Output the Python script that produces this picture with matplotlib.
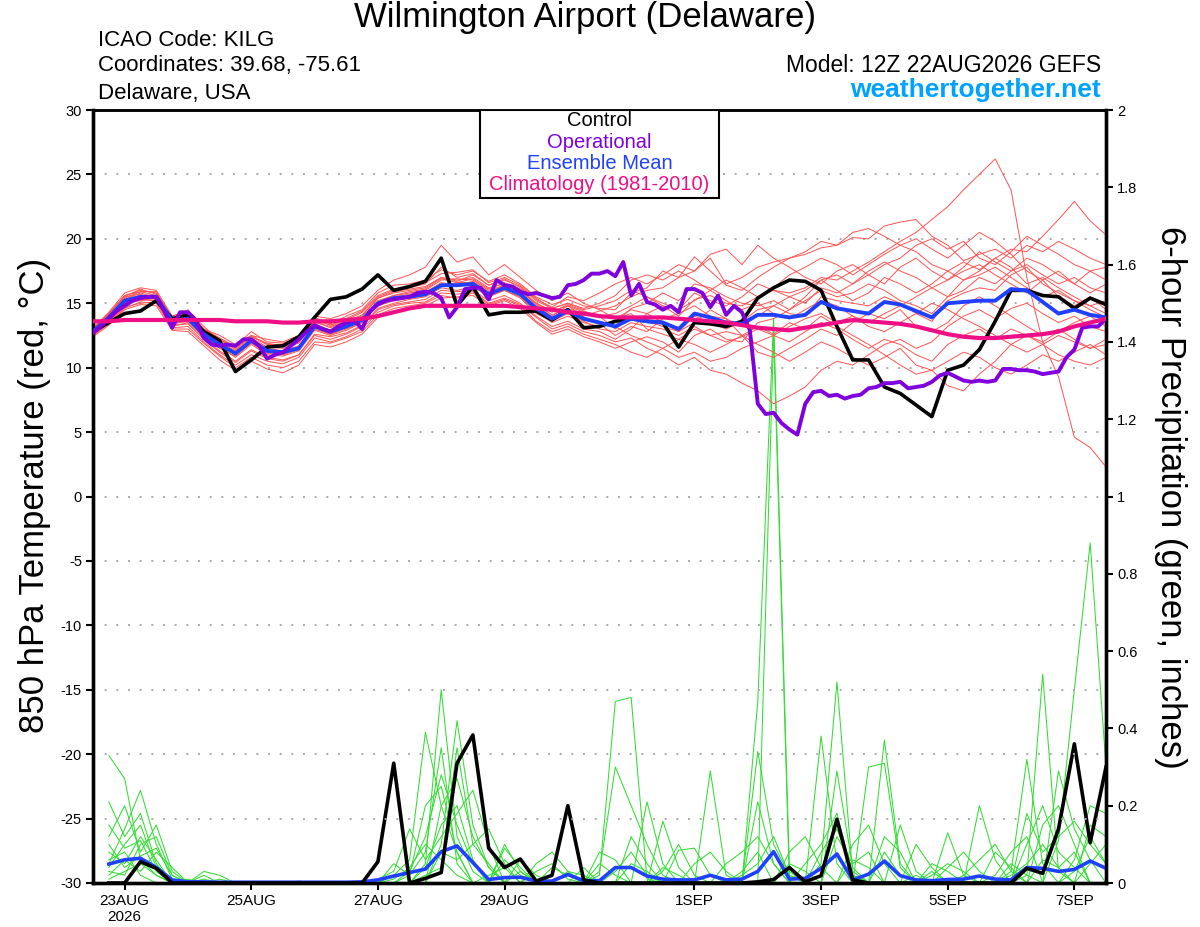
import numpy as np
import pandas as pd
import matplotlib
matplotlib.use("Agg")
import matplotlib.pyplot as plt
from matplotlib.patches import Rectangle

plt.rcParams['font.family'] = ['Liberation Sans', 'DejaVu Sans']

# ---------------- time axes ----------------
times = pd.date_range("2026-08-22 12:00", periods=65, freq="6h")
times_op = pd.date_range("2026-08-22 12:00", periods=129, freq="3h")
ptimes = times[1:]

tick_dates = pd.to_datetime(["2026-08-23", "2026-08-25", "2026-08-27", "2026-08-29",
                             "2026-09-01", "2026-09-03", "2026-09-05", "2026-09-07"])
tick_labels = ["23AUG\n2026", "25AUG", "27AUG", "29AUG", "1SEP", "3SEP", "5SEP", "7SEP"]

# ---------------- 850 hPa temperature (C) ----------------
control_t = [12.8, 13.5, 14.2, 14.4, 15.2, 13.8, 14.1, 12.8, 12.1, 9.7,
             10.6, 11.6, 11.7, 12.4, 13.9, 15.3, 15.5, 16.1, 17.2, 16.0,
             16.3, 16.7, 18.5, 14.8, 16.3, 14.1, 14.3, 14.3, 14.4, 13.7,
             14.5, 13.1, 13.2, 13.6, 13.8, 13.6, 13.5, 11.6, 13.5, 13.4,
             13.2, 13.6, 15.4, 16.2, 16.8, 16.7, 16.0, 13.2, 10.6, 10.6,
             8.5, 8.0, 7.1, 6.2, 9.8, 10.2, 11.4, 13.6, 16.0, 16.0,
             15.6, 15.5, 14.6, 15.4, 14.9]

mean_t = [12.8, 13.9, 15.2, 15.5, 15.5, 13.6, 13.8, 12.6, 11.8, 11.1,
          12.1, 11.3, 11.2, 11.5, 13.2, 12.8, 13.2, 13.7, 15.0, 15.4,
          15.5, 15.7, 16.4, 16.4, 16.5, 15.7, 16.2, 15.7, 14.6, 13.8,
          14.4, 13.8, 13.5, 13.2, 13.8, 13.6, 13.5, 13.0, 14.2, 13.9,
          13.5, 13.4, 14.1, 14.1, 13.9, 14.1, 15.1, 14.6, 14.4, 14.2,
          15.1, 14.9, 14.4, 13.9, 15.0, 15.1, 15.2, 15.2, 16.1, 16.0,
          15.1, 14.2, 14.5, 14.1, 13.9]

clim_t = [13.6, 13.6, 13.7, 13.7, 13.7, 13.7, 13.7, 13.7, 13.7, 13.6,
          13.6, 13.6, 13.5, 13.5, 13.6, 13.6, 13.7, 13.8, 14.0, 14.3,
          14.6, 14.8, 14.8, 14.8, 14.8, 14.8, 14.8, 14.7, 14.6, 14.5,
          14.3, 14.2, 14.0, 13.9, 13.9, 13.9, 13.9, 13.8, 13.7, 13.6,
          13.5, 13.3, 13.1, 13.0, 12.9, 13.1, 13.3, 13.5, 13.7, 13.6,
          13.5, 13.4, 13.2, 12.9, 12.6, 12.4, 12.3, 12.3, 12.4, 12.5,
          12.6, 12.8, 13.2, 13.5, 13.8]

oper_t = [12.7, 13.2, 13.8, 14.4, 14.8, 15.2, 15.4, 15.5, 15.5, 14.4,
          13.1, 14.3, 14.3, 13.7, 12.3, 11.8, 11.7, 11.8, 11.7, 12.2,
          12.2, 11.7, 10.7, 11.0, 11.2, 11.7, 12.2, 12.8, 13.3, 13.0,
          12.8, 13.2, 13.5, 13.7, 13.0, 14.4, 14.9, 15.2, 15.3, 15.4,
          15.5, 15.8, 15.9, 15.8, 15.4, 13.9, 14.7, 16.1, 16.2, 16.2,
          15.3, 16.8, 16.4, 16.3, 15.9, 15.7, 15.8, 15.6, 15.4, 15.5,
          16.4, 16.5, 16.8, 17.3, 17.3, 17.5, 17.1, 18.2, 15.6, 16.5,
          15.1, 14.9, 14.5, 14.8, 14.3, 16.1, 16.1, 15.8, 14.7, 15.6,
          14.1, 14.8, 14.3, 12.9, 7.2, 6.4, 6.5, 5.7, 5.2, 4.8,
          7.2, 8.1, 8.2, 7.8, 7.9, 7.6, 7.8, 7.9, 8.4, 8.5,
          8.8, 8.8, 8.9, 8.4, 8.5, 8.6, 8.9, 9.4, 9.6, 9.3,
          9.0, 8.9, 9.0, 8.9, 9.0, 9.9, 9.9, 9.8, 9.8, 9.7,
          9.5, 9.6, 9.7, 10.8, 11.4, 13.1, 13.2, 13.2, 13.8]

member_t01 = [12.9, 14.2, 15.6, 16.0, 15.8, 13.9, 14.2, 12.9, 12.2, 11.5,
              12.4, 11.8, 11.6, 12.0, 13.5, 13.2, 13.6, 14.1, 15.4, 15.9,
              16.1, 16.3, 17.0, 16.8, 17.0, 16.2, 16.5, 15.9, 15.0, 14.4,
              14.8, 14.3, 14.1, 13.8, 14.5, 14.2, 14.8, 14.0, 15.3, 15.6,
              15.0, 14.8, 15.5, 16.0, 15.8, 16.2, 17.0, 16.8, 17.5, 18.2,
              19.0, 19.8, 20.5, 21.5, 22.5, 23.8, 25.0, 26.2, 23.8, 17.0,
              12.0, 9.3, 4.6, 3.8, 2.3]
member_t02 = [12.5, 13.6, 14.8, 15.3, 15.2, 13.2, 13.5, 12.3, 11.3, 10.5,
              11.4, 10.8, 10.6, 11.0, 12.6, 12.4, 12.7, 13.3, 14.6, 15.0,
              15.3, 15.5, 16.2, 16.0, 16.3, 15.5, 16.0, 15.5, 14.3, 13.5,
              14.0, 13.5, 13.2, 13.5, 14.6, 15.0, 15.8, 15.2, 16.5, 16.2,
              15.5, 15.0, 14.8, 15.2, 14.5, 15.5, 16.8, 16.0, 15.2, 15.8,
              17.0, 16.5, 15.8, 16.5, 17.5, 18.2, 17.6, 18.5, 19.2, 19.0,
              20.2, 21.5, 22.9, 21.4, 20.3]
member_t03 = [13.1, 14.3, 15.8, 16.2, 16.0, 14.0, 14.4, 13.2, 12.1, 11.7,
              12.8, 12.0, 11.9, 12.3, 13.9, 13.4, 14.0, 14.5, 15.8, 16.4,
              16.5, 16.8, 17.6, 17.2, 17.5, 16.7, 17.2, 16.5, 15.5, 14.9,
              15.3, 14.8, 14.6, 14.5, 15.8, 16.2, 17.5, 17.0, 18.6, 17.5,
              16.4, 16.0, 17.0, 17.8, 18.5, 18.8, 19.3, 19.5, 20.1, 20.0,
              21.0, 21.3, 21.5, 20.2, 19.5, 18.3, 18.8, 19.2, 18.5, 19.5,
              19.0, 19.8, 19.2, 18.5, 18.0]
member_t04 = [12.6, 13.5, 14.7, 15.0, 15.1, 13.1, 13.2, 12.0, 11.0, 10.2,
              11.0, 10.5, 10.3, 10.8, 12.3, 12.0, 12.4, 13.0, 14.3, 14.8,
              15.0, 15.1, 15.8, 15.7, 15.9, 15.0, 15.4, 14.9, 13.9, 13.0,
              13.4, 12.8, 12.5, 12.0, 12.3, 11.5, 11.0, 10.2, 10.8, 9.8,
              9.5, 8.8, 8.2, 7.2, 7.8, 8.5, 9.8, 10.5, 10.2, 11.0,
              11.8, 12.2, 11.5, 12.0, 13.2, 14.0, 14.5, 13.8, 14.6, 15.0,
              14.2, 13.5, 14.0, 13.2, 12.8]
member_t05 = [12.7, 13.8, 15.1, 15.4, 15.6, 13.5, 13.9, 12.8, 12.0, 11.3,
              12.2, 11.5, 11.3, 11.7, 13.4, 12.9, 13.4, 13.9, 15.2, 15.6,
              15.8, 16.0, 16.8, 16.9, 16.8, 16.0, 16.4, 16.0, 14.9, 14.1,
              14.6, 14.2, 14.0, 13.0, 14.0, 13.6, 13.2, 12.8, 14.0, 13.5,
              13.0, 13.6, 14.5, 14.8, 14.2, 14.0, 15.5, 15.2, 15.0, 14.8,
              15.5, 15.0, 14.2, 13.6, 15.2, 15.8, 16.2, 16.0, 17.2, 17.8,
              16.5, 15.8, 15.2, 14.5, 13.9]
member_t06 = [12.9, 14.0, 15.4, 15.9, 15.9, 13.8, 14.5, 13.0, 12.5, 11.8,
              12.5, 12.2, 12.0, 12.5, 14.0, 13.8, 14.2, 14.8, 16.0, 16.8,
              17.2, 17.8, 19.5, 18.2, 18.6, 17.2, 18.0, 17.0, 16.0, 15.2,
              15.8, 15.0, 14.5, 13.8, 14.2, 13.0, 12.6, 12.2, 13.0, 12.5,
              12.0, 12.4, 13.0, 12.5, 12.0, 12.8, 13.5, 13.0, 12.2, 11.5,
              12.2, 11.8, 11.0, 10.5, 11.8, 12.5, 13.0, 12.2, 13.0, 12.5,
              11.8, 11.0, 10.5, 10.2, 10.8]
member_t07 = [12.4, 13.3, 14.5, 14.9, 14.8, 12.9, 12.8, 11.7, 10.6, 9.8,
              10.5, 9.9, 9.6, 10.2, 11.8, 11.6, 12.0, 12.6, 13.9, 14.4,
              14.6, 14.8, 15.4, 15.5, 15.6, 14.8, 15.2, 14.6, 13.5, 12.6,
              13.0, 12.4, 12.0, 11.5, 12.0, 12.4, 12.0, 11.2, 12.5, 13.0,
              12.2, 12.0, 13.5, 13.8, 14.5, 15.2, 16.0, 15.5, 15.8, 16.5,
              16.0, 15.2, 14.8, 14.2, 15.5, 16.0, 17.0, 16.5, 17.5, 18.0,
              17.2, 16.5, 17.0, 16.2, 15.8]
member_t08 = [12.8, 14.1, 15.5, 15.7, 15.3, 13.7, 14.0, 12.7, 11.8, 11.0,
              12.0, 11.2, 11.0, 11.5, 13.0, 12.6, 13.0, 13.5, 14.8, 15.2,
              15.4, 15.6, 16.3, 16.6, 16.6, 15.8, 16.4, 15.8, 14.8, 14.0,
              14.8, 14.0, 14.4, 14.8, 15.5, 16.0, 16.2, 17.0, 17.5, 18.5,
              16.5, 17.0, 17.8, 18.2, 18.5, 19.0, 19.8, 19.5, 20.5, 20.8,
              20.2, 19.5, 19.0, 18.0, 17.5, 16.8, 17.2, 17.8, 17.0, 16.2,
              15.5, 16.0, 15.2, 14.8, 15.2]
member_t09 = [12.6, 13.7, 15.0, 15.2, 15.4, 13.4, 13.6, 12.4, 11.6, 10.8,
              11.8, 11.0, 10.9, 11.3, 12.9, 12.5, 12.9, 13.5, 14.9, 15.3,
              15.5, 15.6, 16.4, 16.5, 16.4, 15.6, 16.0, 15.4, 14.2, 13.6,
              14.2, 13.6, 13.0, 12.8, 13.5, 13.2, 13.0, 12.5, 13.2, 12.5,
              12.8, 12.5, 13.2, 12.6, 13.5, 13.0, 14.0, 13.2, 12.5, 11.8,
              11.0, 10.2, 9.5, 9.8, 8.6, 8.2, 9.5, 10.5, 11.8, 12.5,
              12.0, 12.8, 13.5, 14.0, 13.2]
member_t10 = [13.0, 14.2, 15.5, 16.1, 15.7, 13.9, 14.0, 12.9, 12.2, 11.4,
              12.3, 11.6, 11.5, 11.9, 13.6, 13.1, 13.6, 14.0, 15.4, 15.8,
              16.0, 16.2, 17.0, 16.7, 17.2, 16.4, 16.9, 16.2, 15.2, 14.6,
              15.0, 14.5, 14.8, 15.2, 16.0, 15.5, 14.8, 14.5, 15.8, 15.2,
              14.8, 15.5, 16.5, 16.0, 15.5, 15.0, 16.2, 15.8, 16.5, 17.2,
              18.0, 18.5, 19.5, 20.0, 19.2, 19.8, 18.5, 18.0, 19.0, 20.2,
              19.5, 18.8, 18.0, 17.5, 16.8]
member_t11 = [12.5, 13.4, 14.6, 15.1, 15.0, 13.0, 13.0, 11.9, 10.9, 10.0,
              10.8, 10.2, 10.0, 10.5, 12.0, 11.9, 12.3, 12.8, 14.1, 14.6,
              14.8, 15.0, 15.6, 15.4, 15.8, 14.9, 15.3, 14.8, 13.6, 12.8,
              13.2, 12.6, 12.2, 11.8, 11.2, 10.8, 11.5, 10.8, 11.2, 10.5,
              10.8, 11.5, 12.0, 12.5, 13.2, 13.8, 14.2, 13.5, 14.0, 13.2,
              12.8, 13.5, 14.2, 15.0, 14.5, 13.8, 13.2, 12.5, 11.8, 11.2,
              11.8, 12.5, 12.0, 11.5, 11.8]
member_t12 = [12.8, 13.9, 15.3, 15.6, 15.5, 13.6, 14.1, 12.9, 12.3, 11.6,
              12.4, 11.9, 11.7, 12.2, 13.8, 13.3, 13.8, 14.4, 15.6, 16.1,
              16.3, 16.6, 17.3, 17.4, 17.6, 16.6, 17.0, 16.4, 15.4, 14.6,
              15.0, 14.6, 15.0, 15.6, 16.8, 17.2, 16.8, 17.5, 16.8, 16.0,
              15.2, 14.5, 15.0, 14.2, 13.8, 14.5, 15.2, 14.8, 14.0, 13.5,
              14.2, 14.8, 15.5, 16.2, 16.8, 17.5, 18.0, 17.2, 16.5, 15.8,
              16.8, 17.5, 16.5, 15.8, 16.5]
member_t13 = [12.7, 13.7, 15.0, 15.5, 15.3, 13.4, 13.7, 12.5, 11.5, 10.9,
              11.9, 11.1, 11.0, 11.4, 13.1, 12.6, 13.1, 13.6, 14.9, 15.3,
              15.5, 15.8, 16.6, 16.4, 16.7, 15.9, 16.3, 15.6, 14.5, 13.8,
              14.4, 13.7, 13.4, 12.5, 13.2, 12.8, 13.8, 14.2, 14.8, 14.0,
              13.8, 13.2, 14.0, 14.8, 15.5, 16.0, 16.8, 17.2, 16.5, 17.5,
              18.2, 17.5, 17.0, 16.2, 15.5, 16.8, 17.5, 18.5, 17.8, 16.5,
              17.0, 16.2, 15.5, 14.8, 14.2]
member_t14 = [12.6, 13.6, 14.9, 15.3, 15.2, 13.3, 13.4, 12.2, 11.2, 10.4,
              11.3, 10.7, 10.5, 11.0, 12.5, 12.2, 12.6, 13.2, 14.5, 14.9,
              15.1, 15.3, 16.0, 15.9, 16.0, 15.2, 15.6, 15.0, 14.0, 13.2,
              13.6, 13.0, 12.8, 12.2, 13.0, 14.2, 13.5, 12.8, 13.5, 14.5,
              13.8, 12.5, 11.8, 11.2, 10.5, 11.2, 12.0, 11.5, 10.8, 10.2,
              10.8, 11.5, 10.2, 9.8, 10.5, 11.2, 10.8, 10.0, 9.5, 10.2,
              11.0, 10.5, 11.2, 11.8, 11.0]
member_t15 = [13.0, 14.1, 15.6, 15.9, 15.6, 14.0, 14.3, 13.0, 12.3, 11.6,
              12.5, 11.8, 11.8, 12.1, 13.7, 13.3, 13.7, 14.3, 15.5, 16.0,
              16.2, 16.5, 17.8, 17.0, 17.3, 16.4, 16.8, 16.3, 15.3, 14.7,
              15.5, 15.2, 15.8, 16.5, 17.0, 16.5, 17.2, 18.0, 17.5, 18.8,
              19.2, 18.0, 19.5, 18.5, 17.8, 17.0, 16.5, 17.5, 18.0, 17.2,
              16.5, 17.8, 18.5, 17.5, 16.8, 17.8, 19.0, 18.2, 17.5, 18.5,
              18.0, 17.2, 16.5, 17.5, 17.8]
member_t16 = [12.9, 14.0, 15.2, 15.6, 15.6, 13.7, 13.9, 12.6, 11.9, 11.2,
              12.0, 11.3, 11.2, 11.6, 13.2, 12.7, 13.2, 13.7, 15.0, 15.5,
              15.7, 15.9, 16.5, 16.3, 16.6, 15.8, 16.2, 15.7, 14.6, 13.9,
              14.5, 13.9, 13.5, 13.2, 12.5, 12.0, 11.5, 12.2, 11.8, 11.2,
              11.8, 12.5, 11.2, 10.8, 11.5, 12.2, 13.0, 12.5, 13.5, 14.2,
              13.8, 14.5, 13.2, 12.8, 13.5, 14.8, 15.5, 14.8, 14.0, 13.2,
              12.5, 13.0, 12.2, 11.5, 12.2]
member_t17 = [12.7, 13.9, 15.3, 15.8, 15.4, 13.5, 13.8, 12.7, 12.0, 11.2,
              12.1, 11.4, 11.2, 11.6, 13.3, 12.8, 13.3, 13.8, 15.1, 15.6,
              15.9, 16.1, 16.9, 16.6, 16.9, 16.1, 16.6, 16.1, 15.0, 14.3,
              14.9, 14.4, 14.0, 14.2, 14.8, 15.5, 15.0, 14.5, 15.2, 16.0,
              16.8, 16.2, 15.5, 16.2, 17.2, 17.8, 18.5, 18.0, 17.2, 18.0,
              18.8, 19.5, 20.0, 19.2, 18.5, 19.5, 20.5, 19.8, 18.8, 17.5,
              16.8, 15.5, 14.8, 15.5, 14.5]

members_t = [member_t01, member_t02, member_t03, member_t04, member_t05, member_t06,
             member_t07, member_t08, member_t09, member_t10, member_t11, member_t12,
             member_t13, member_t14, member_t15, member_t16, member_t17]

# ---------------- 6-hour precipitation (in), from 22AUG 18Z ----------------
control_p = [0, 0, .055, .038, 0, 0, 0, 0,
             0, 0, 0, 0, 0, 0, 0, 0,
             0, .055, .31, 0, .012, .027, .31, .383,
             .09, .04, .062, .005, .02, .2, .008, 0,
             0, 0, 0, 0, 0, 0, 0, 0,
             0, .003, .009, .04, .003, .019, .165, .008,
             0, 0, 0, 0, 0, 0, 0, 0,
             0, 0, .038, .025, .14, .36, .104, .30]

mean_p = [.049, .06, .064, .04, .008, .003, .003, .002,
          .002, .002, .002, .002, .002, .002, .002, .002,
          .003, .008, .018, .027, .036, .081, .096, .053,
          .009, .014, .015, .005, .005, .022, .006, .006,
          .04, .04, .018, .01, .008, .008, .02, .008,
          .01, .03, .081, .01, .012, .038, .075, .008,
          .023, .057, .019, .008, .006, .009, .01, .018,
          .01, .008, .04, .038, .03, .035, .057, .038]

member_p01 = [.33, .27, .06, .02, 0, 0, 0, 0,
              0, 0, 0, 0, 0, 0, 0, 0,
              0, 0, 0, 0, .05, .5, .12, .03,
              0, 0, 0, 0, 0, 0, 0, .02,
              .47, .48, .01, 0, 0, 0, 0, 0,
              0, 0, 0, 0, 0, .05, .52, .02,
              0, 0, 0, 0, 0, 0, 0, 0,
              0, 0, .02, .54, .03, 0, 0, 0]
member_p02 = [.21, .12, .18, .05, 0, 0, 0, 0,
              0, 0, 0, 0, 0, 0, 0, 0,
              0, 0, .02, .06, .39, .2, .08, 0,
              0, 0, 0, 0, .04, .02, 0, 0,
              0, 0, 0, 0, 0, 0, 0, 0,
              0, .47, 1.46, .03, 0, 0, 0, 0,
              0, .37, .05, 0, 0, 0, 0, 0,
              0, 0, 0, 0, .11, .5, .88, .3]
member_p03 = [.05, .14, .24, .1, .01, 0, .03, .02,
              0, 0, 0, 0, 0, 0, 0, 0,
              0, 0, 0, 0, 0, .1, .42, .15,
              .04, 0, 0, 0, 0, 0, 0, .03,
              .3, .2, .1, .02, 0, 0, 0, 0,
              0, 0, 1.42, 0, 0, 0, 0, 0,
              .3, .31, .04, 0, 0, 0, 0, 0,
              0, .03, .32, .05, 0, 0, 0, 0]
member_p04 = [.12, .2, .08, .15, .03, 0, 0, 0,
              0, 0, 0, 0, 0, 0, 0, 0,
              0, 0, 0, .03, .12, .28, .15, .05,
              0, .06, .02, 0, 0, 0, 0, 0,
              0, 0, .21, .05, 0, 0, .29, .02,
              0, 0, 0, 0, 0, 0, .29, .04,
              0, 0, 0, 0, 0, .13, .02, 0,
              0, 0, 0, 0, .29, .14, .06, 0]
member_p05 = [.08, .05, .12, .06, 0, 0, 0, 0,
              0, 0, 0, 0, 0, 0, 0, 0,
              0, .01, .03, .14, .06, .12, .18, .24,
              .1, 0, .06, .02, 0, 0, 0, 0,
              0, 0, 0, .16, .04, 0, 0, 0,
              0, .34, .1, .02, 0, 0, 0, 0,
              0, 0, .15, .03, 0, 0, 0, .2,
              .06, 0, .18, .08, .12, .16, .1, .05]
member_p06 = [.04, .1, .15, .04, 0, .01, 0, 0,
              0, 0, 0, 0, 0, 0, 0, 0,
              0, 0, .05, .02, .08, .35, .05, 0,
              0, .09, .04, 0, 0, 0, 0, .05,
              .02, 0, 0, 0, .085, .09, .02, 0,
              0, .21, .05, 0, 0, .38, .05, 0,
              0, 0, 0, 0, .02, .05, .03, 0,
              .02, .08, .12, 0, 0, 0, .05, .1]
member_p07 = [.02, .06, .03, .08, .04, 0, .02, 0,
              0, 0, 0, 0, 0, 0, 0, 0,
              0, 0, 0, 0, .02, .04, .35, .1,
              .05, 0, 0, .03, .05, .01, 0, 0,
              0, .05, .03, 0, 0, 0, 0, .05,
              .08, .12, .05, 0, 0, 0, .12, .05,
              .08, 0, 0, .1, .04, 0, 0, 0,
              .08, .04, 0, .15, .2, .1, 0, 0]
member_p08 = [.03, .02, .1, .12, .02, 0, 0, 0,
              0, 0, 0, 0, .005, 0, 0, 0,
              0, 0, 0, 0, 0, .08, .06, .1,
              .14, .05, 0, 0, 0, .03, .02, 0,
              0, 0, 0, .04, .02, 0, 0, 0,
              0, 0, 0, .08, .12, .04, 0, 0,
              0, .08, .02, 0, 0, 0, .02, .06,
              .1, .03, 0, 0, 0, .03, .12, .05]
member_p09 = [.01, .03, .05, .02, 0, 0, 0, 0,
              0, 0, 0, 0, 0, 0, 0, 0,
              0, 0, .01, .04, .1, .06, .02, 0,
              .02, .04, 0, 0, 0, 0, .04, 0,
              .03, .08, .02, 0, 0, 0, 0, 0,
              .02, .05, .12, .02, 0, 0, 0, .06,
              .04, 0, 0, 0, .05, .03, 0, 0,
              0, 0, 0, .06, .04, .08, 0, 0]
member_p10 = [.06, .08, .02, 0, 0, 0, .01, 0,
              0, 0, 0, 0, 0, 0, 0, 0,
              0, 0, 0, 0, .04, .15, .2, .06,
              0, 0, .03, 0, 0, 0, 0, 0,
              0, 0, 0, 0, 0, .05, .08, .03,
              0, 0, 0, 0, .05, .1, .18, .02,
              0, 0, 0, .02, 0, 0, 0, 0,
              0, .02, .05, .1, .04, 0, .15, .12]
member_p11 = [.1, .04, .07, .09, .02, 0, 0, 0,
              0, 0, 0, 0, 0, 0, 0, 0,
              0, 0, 0, .02, .2, .25, .08, 0,
              0, .1, .03, 0, 0, 0, 0, .08,
              .06, 0, 0, .03, .1, .02, 0, 0,
              0, 0, 0, .05, .03, 0, 0, .1,
              .15, .05, 0, 0, 0, .04, .08, .03,
              0, 0, .1, .2, .08, .04, 0, 0]
member_p12 = [.15, .09, .11, .03, 0, 0, 0, .01,
              0, 0, 0, 0, 0, 0, 0, 0,
              0, 0, 0, 0, 0, .2, .27, .12,
              .04, 0, 0, .05, .08, .03, 0, 0,
              0, .12, .05, 0, 0, 0, 0, 0,
              .03, .08, 0, 0, 0, .08, .14, .03,
              0, .12, .08, 0, .03, 0, 0, 0,
              0, .05, .02, 0, 0, .06, .2, .18]

members_p = [member_p01, member_p02, member_p03, member_p04, member_p05, member_p06,
             member_p07, member_p08, member_p09, member_p10, member_p11, member_p12]

temp_ticks = [30, 25, 20, 15, 10, 5, 0, -5, -10, -15, -20, -25, -30]
precip_ticks = [0, 0.2, 0.4, 0.6, 0.8, 1, 1.2, 1.4, 1.6, 1.8, 2]
precip_tick_labels = ["0", "0.2", "0.4", "0.6", "0.8", "1", "1.2", "1.4", "1.6", "1.8", "2"]

# ---------------- colours ----------------
C_RED = '#ff5252'
C_GREEN = '#33dd33'
C_CTRL = '#000000'
C_OPER = '#8000dd'
C_MEAN = '#2040ff'
C_CLIM = '#ee0f87'

W, H = 1200, 927
fig = plt.figure(figsize=(W / 100, H / 100), dpi=100)
ax = fig.add_axes([93 / W, 1 - 883 / H, (1106 - 93) / W, (883 - 110) / H])
ax2 = ax.twinx()
ax.set_zorder(ax2.get_zorder() + 1)
ax.patch.set_visible(False)

# precipitation (right axis)
for m in members_p:
    ax2.plot(ptimes, m, color=C_GREEN, lw=0.75, zorder=2)
ax2.plot(ptimes, mean_p, color=C_MEAN, lw=2.6, zorder=4)
ax2.plot(ptimes, control_p, color=C_CTRL, lw=2.6, zorder=5)

# temperature (left axis)
for m in members_t:
    ax.plot(times, m, color=C_RED, lw=0.7, zorder=2)
ax.plot(times, control_t, color=C_CTRL, lw=2.6, zorder=4)
ax.plot(times, mean_t, color=C_MEAN, lw=2.8, zorder=5)
ax.plot(times_op, oper_t, color=C_OPER, lw=2.8, zorder=6)
ax.plot(times, clim_t, color=C_CLIM, lw=3.0, zorder=7)

ax.set_xlim(times[0], times[-1])
ax.set_ylim(-30, 30)
ax2.set_ylim(0, 2)

ax.set_yticks(temp_ticks)
ax.set_yticklabels([str(t) for t in temp_ticks])
ax2.set_yticks(precip_ticks)
ax2.set_yticklabels(precip_tick_labels)
ax.set_xticks(tick_dates)
ax.set_xticklabels(tick_labels)

ax.grid(axis='y', linestyle=(0, (1, 5)), color='#aaaaaa', lw=1.4, zorder=0)
ax.grid(axis='x', visible=False)

for a in (ax, ax2):
    for side in ('left', 'right', 'bottom'):
        a.spines[side].set_linewidth(2.4)
    a.spines['top'].set_linewidth(1.8)
ax.tick_params(axis='y', direction='out', length=5, width=1.5, labelsize=10.5, pad=3)
ax.tick_params(axis='x', direction='out', length=5, width=1.5, labelsize=11, pad=3)
ax2.tick_params(axis='y', direction='out', length=5, width=1.5, labelsize=10.5, pad=3)

# legend box
ax.add_patch(Rectangle((0.382, 0.886), 0.236, 0.114, transform=ax.transAxes,
                       facecolor='white', edgecolor='black', lw=1.5, zorder=10))
leg_items = [("Control", C_CTRL, 0.9858), ("Operational", C_OPER, 0.9586),
             ("Ensemble Mean", C_MEAN, 0.9314), ("Climatology (1981-2010)", C_CLIM, 0.903)]
for txt, col, yy in leg_items:
    ax.text(0.5, yy, txt, color=col, transform=ax.transAxes, ha='center', va='center',
            fontsize=14.5, zorder=11)

# header texts
def ftext(x, y, s, **kw):
    fig.text(x / W, 1 - y / H, s, **kw)

ftext(585, 18, "Wilmington Airport (Delaware)", ha='center', va='center', fontsize=25)
ftext(98, 40, "ICAO Code: KILG", ha='left', va='center', fontsize=16)
ftext(98, 66, "Coordinates: 39.68, -75.61", ha='left', va='center', fontsize=16)
ftext(98, 93, "Delaware, USA", ha='left', va='center', fontsize=16)
ftext(1101, 65, "Model: 12Z 22AUG2026 GEFS", ha='right', va='center', fontsize=16.5)
ftext(1101, 90, "weathertogether.net", ha='right', va='center', fontsize=19,
      fontweight='bold', color='#00a2ff')
ftext(35, 495, "850 hPa Temperature (red, °C)", rotation=90, ha='center', va='center',
      fontsize=25)
ftext(1170, 497, "6-hour Precipitation (green, inches)", rotation=270, ha='center',
      va='center', fontsize=25)

fig.savefig("out.png", dpi=100)
